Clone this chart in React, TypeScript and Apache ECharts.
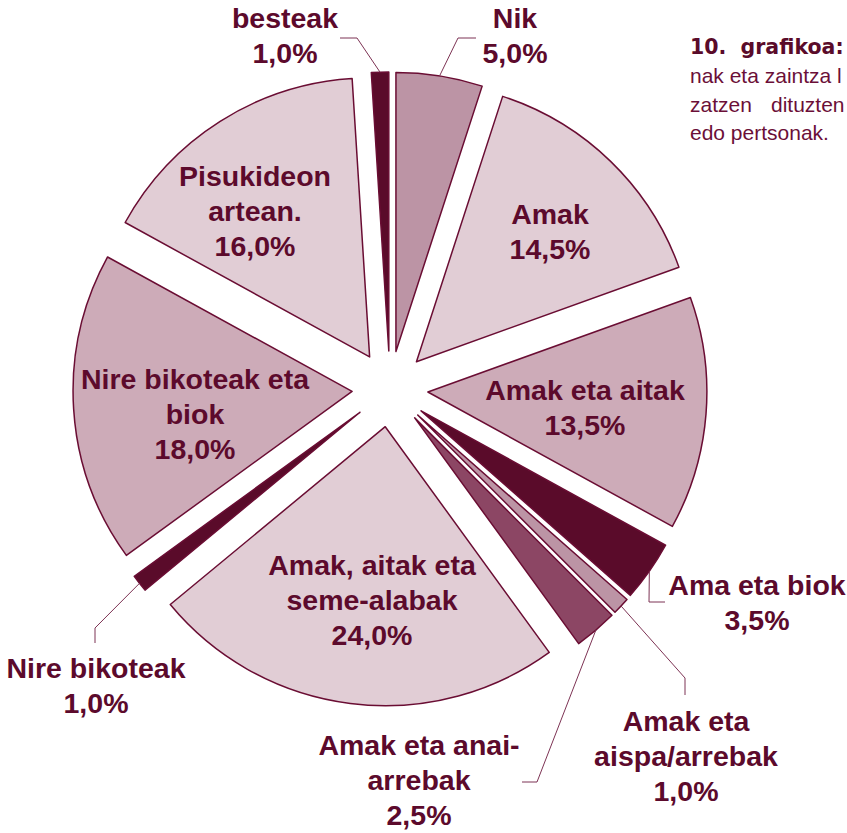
import React, { useEffect, useRef } from "react";
import * as echarts from "echarts";

// ---- data ----
const categories: string[] = [
  "Nik",
  "Amak",
  "Amak eta aitak",
  "Ama eta biok",
  "Amak eta\naispa/arrebak",
  "Amak eta anai-\narrebak",
  "Amak, aitak eta\nseme-alabak",
  "Nire bikoteak",
  "Nire bikoteak eta\nbiok",
  "Pisukideon\nartean.",
  "besteak",
];
const values: number[] = [5.0, 14.5, 13.5, 3.5, 1.0, 2.5, 24.0, 1.0, 18.0, 16.0, 1.0];

const titleLines: string[] = ["nak eta zaintza l", "zatzen", "dituzten", "edo pertsonak."];
const titleBold = "10.  grafikoa:";

// ---- styles / layout ----
const LIGHT = "#e1cdd5";
const MID = "#cdabb8";
const MAUVE = "#bc94a5";
const DEEP = "#8c4664";
const DARK = "#5a0b2a";
const colors = [MAUVE, LIGHT, MID, DARK, MAUVE, DEEP, LIGHT, DARK, MID, LIGHT, DARK];
const TEXT = "#5c0a2c";
const BORDER = "#6a0d33";
const CENTER = [390, 389];
const RADIUS = 279;
const EXPLODE = 38;

type LL = { x: number; y: number; out?: boolean; bend?: number[]; end?: number[] };
const labelPlace: LL[] = [
  { x: 515, y: 35, out: true, bend: [458, 38], end: [476, 38] },
  { x: 550, y: 231 },
  { x: 585, y: 407 },
  { x: 757, y: 602, out: true, bend: [649, 602], end: [665, 602] },
  { x: 686, y: 756, out: true, bend: [685, 678], end: [685, 695] },
  { x: 419, y: 780, out: true, bend: [537, 782], end: [522, 782] },
  { x: 372, y: 600 },
  { x: 96, y: 685, out: true, bend: [95, 628], end: [95, 643] },
  { x: 195, y: 414 },
  { x: 255, y: 211 },
  { x: 285, y: 35, out: true, bend: [357, 38], end: [340, 38] },
];

const fmt = (v: number) => v.toFixed(1).replace(".", ",") + "%";
const FONT = "'Liberation Sans', Arial, sans-serif";

export default function App() {
  const ref = useRef<HTMLDivElement>(null);
  useEffect(() => {
    if (!ref.current) return;
    const chart = echarts.init(ref.current, undefined, { renderer: "svg" });
    const sliceData = categories.map((name, i) => ({
      name,
      value: values[i],
      selected: true,
      itemStyle: { color: colors[i] },
    }));
    const labelData = categories.map((name, i) => ({
      name,
      value: values[i],
      label: { show: true, position: labelPlace[i].out ? "outside" : "inside" },
      labelLine: { show: !!labelPlace[i].out, length: 20, length2: 10 },
    }));
    const titleStyle = { fill: "#6b0f38", font: "21px 'Liberation Sans'" };
    chart.setOption({
      animation: false,
      backgroundColor: "#ffffff",
      graphic: [
        {
          type: "text",
          left: 690,
          top: 36,
          style: { text: titleBold, fill: DARK, font: "bold 20.5px 'DejaVu Sans'" },
        },
        { type: "text", left: 690, top: 65, style: { text: titleLines[0], ...titleStyle } },
        { type: "text", left: 690, top: 94, style: { text: titleLines[1], ...titleStyle } },
        { type: "text", left: 771, top: 94, style: { text: titleLines[2], ...titleStyle } },
        { type: "text", left: 690, top: 122, style: { text: titleLines[3], ...titleStyle } },
      ],
      series: [
        {
          type: "pie",
          center: CENTER,
          radius: [0, RADIUS],
          startAngle: 90,
          clockwise: true,
          selectedMode: "multiple",
          selectedOffset: EXPLODE,
          avoidLabelOverlap: false,
          silent: true,
          itemStyle: { borderColor: BORDER, borderWidth: 1.5 },
          select: { itemStyle: { borderColor: BORDER, borderWidth: 1.5 } },
          emphasis: { disabled: true },
          label: { show: false },
          labelLine: { show: false },
          data: sliceData,
        },
        {
          type: "pie",
          center: CENTER,
          radius: [0, RADIUS + EXPLODE],
          startAngle: 90,
          clockwise: true,
          avoidLabelOverlap: false,
          silent: true,
          z: 5,
          itemStyle: { color: "rgba(0,0,0,0)", borderWidth: 0 },
          emphasis: { disabled: true },
          label: {
            color: TEXT,
            fontFamily: FONT,
            fontWeight: "bold",
            fontSize: 28.5,
            lineHeight: 35,
            formatter: (p: any) => {
              const lines = String(p.name).split("\n");
              lines.push(fmt(p.value));
              return lines.map((l) => "{c|" + l + "}").join("\n");
            },
            rich: {
              c: {
                align: "center",
                color: TEXT,
                fontFamily: FONT,
                fontWeight: "bold",
                fontSize: 28.5,
                lineHeight: 35,
              },
            },
          },
          labelLine: { lineStyle: { color: "#7d3354", width: 1 } },
          labelLayout: (p: any) => {
            const L = labelPlace[p.dataIndex];
            const res: any = { x: L.x, y: L.y, align: "center", verticalAlign: "middle" };
            if (L.out && p.labelLinePoints) {
              res.labelLinePoints = [p.labelLinePoints[0], L.bend, L.end];
            }
            return res;
          },
          data: labelData,
        },
      ],
    });
    return () => chart.dispose();
  }, []);
  return (
    <div
      ref={ref}
      style={{ position: "fixed", left: 0, top: 0, width: 847, height: 833 }}
    />
  );
}
